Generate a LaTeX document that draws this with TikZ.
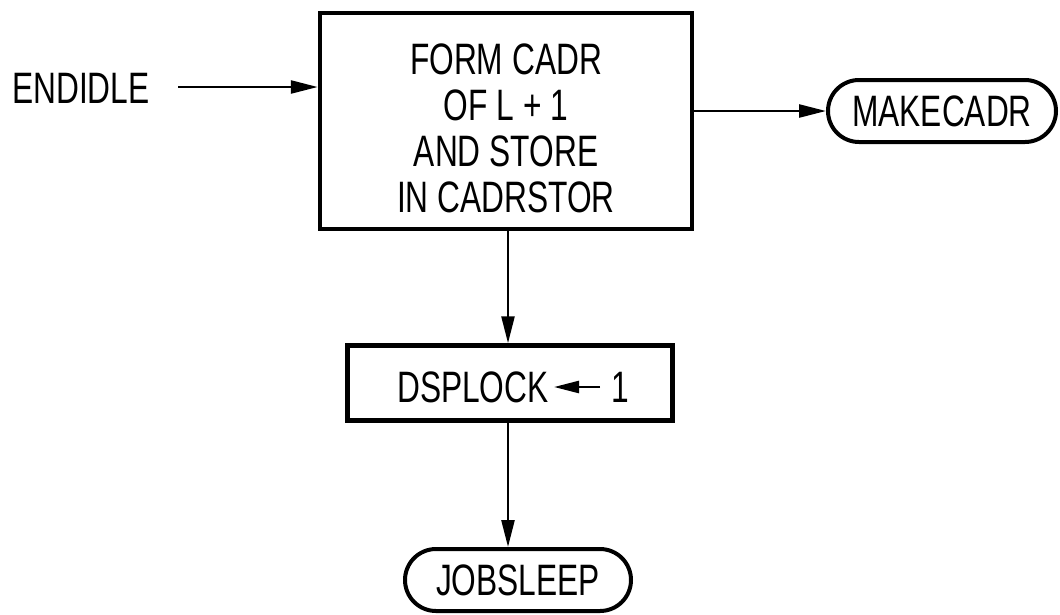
\documentclass[tikz,border=0pt]{standalone}
\usepackage{fontspec}
\setmainfont[FakeStretch=0.72]{Liberation Sans}
\usetikzlibrary{arrows.meta,shapes.misc}
\begin{document}
\begin{tikzpicture}[x=1pt,y=-1pt,
  every node/.style={font=\fontsize{44}{46}\selectfont, inner sep=0pt},
  procbox/.style={draw, line width=4.5pt, rectangle, align=center},
  terminal/.style={draw, line width=4pt, rounded rectangle},
  flow/.style={line width=2.5pt, -{Triangle[length=27pt,width=13pt]}},
  tinyarrow/.style={line width=2.5pt, -{Triangle[length=25pt,width=12pt]}}]
\useasboundingbox (0,0) rectangle (1060,614);

% entry label
\node[anchor=west] (endidle) at (12,88) {ENDIDLE};
\coordinate (entry) at (178,87);

% main process box
\node[procbox, minimum width=372pt, minimum height=216pt] (form) at (506,121) {};
\node[align=center] (formtxt) at (506,128) {FORM CADR\\OF L + 1\\AND STORE\\IN CADRSTOR};

% exit to MAKECADR
\node[terminal, minimum width=228pt, minimum height=62pt] (makecadr) at (942,111) {MAKECADR};

% assignment box
\node[procbox, minimum width=325pt, minimum height=75pt] (dsplockbox) at (510,383) {};
\node[anchor=west] (dsplock) at (397,387) {DSPLOCK};
\node[anchor=west] (one) at (611,387) {1};
\coordinate (arrstart) at (600,387);
\coordinate (arrend) at (554,387);

% final terminal
\node[terminal, minimum width=226pt, minimum height=62pt] (jobsleep) at (518,580) {JOBSLEEP};

% connectors
\draw[flow] (entry) -- (form.west |- entry);
\draw[flow] (form.east |- makecadr.west) -- (makecadr.west);
\draw[flow] (form.south -| 508,0) -- (dsplockbox.north -| 508,0);
\draw[flow] (dsplockbox.south -| 508,0) -- (jobsleep.north -| 508,0);
\draw[tinyarrow] (arrstart) -- (arrend);
\end{tikzpicture}
\end{document}
